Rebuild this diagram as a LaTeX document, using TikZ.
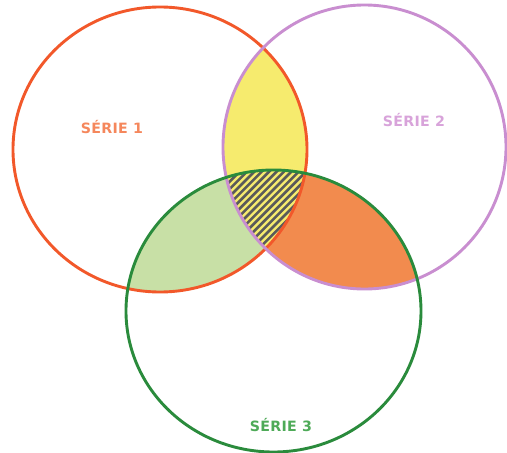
\documentclass[tikz,border=0pt]{standalone}
\usepackage{fontspec}
\setmainfont{DejaVu Sans}
\newfontfamily\labelfont[LetterSpace=2]{DejaVu Sans}
\begin{document}
\begin{tikzpicture}[x=1pt,y=-1pt,
  ring/.style={line width=2.9pt},
  setlabel/.style={font=\labelfont\bfseries\fontsize{14.2}{14.2}\selectfont, inner sep=0pt}]
\definecolor{redA}{HTML}{F2582A}
\definecolor{violetB}{HTML}{C98ED0}
\definecolor{greenC}{HTML}{2A8B3C}
\definecolor{fillAB}{HTML}{F6EB6E}
\definecolor{fillAC}{HTML}{C8E0A6}
\definecolor{fillBC}{HTML}{F28B4E}
\definecolor{hatch}{HTML}{5A5A5A}
\definecolor{txtA}{HTML}{F5875C}
\definecolor{txtB}{HTML}{D8A3DA}
\definecolor{txtC}{HTML}{4EAA58}
\useasboundingbox (0,0) rectangle (507,453);
\fill[white] (0,0) rectangle (507,453);
% set outlines as reusable paths
\def\setA{(160,149.5) ellipse [x radius=147, y radius=142.5]}
\def\setB{(364.5,147) ellipse [x radius=141.5, y radius=142]}
\def\setC{(273.5,311) ellipse [x radius=147.5, y radius=141]}
% pairwise intersections
\begin{scope}\clip \setA; \fill[fillAC] \setC; \end{scope}
\begin{scope}\clip \setB; \fill[fillBC] \setC; \end{scope}
\begin{scope}\clip \setA; \fill[fillAB] \setB; \end{scope}
% hatched triple intersection
\begin{scope}
  \clip \setA; \clip \setB; \clip \setC;
  \foreach \k in {-30,...,30}
    \draw[hatch, line width=2.6pt] (200+\k*7.4,300) -- ++(150,-150);
\end{scope}
% circles
\draw[ring, redA] \setA;
\draw[ring, violetB] \setB;
\draw[ring, greenC] \setC;
% labels
\node[setlabel, txtA] (lA) at (112,127) {SÉRIE 1};
\node[setlabel, txtB] (lB) at (414,120) {SÉRIE 2};
\node[setlabel, txtC] (lC) at (281,425) {SÉRIE 3};
\end{tikzpicture}
\end{document}
